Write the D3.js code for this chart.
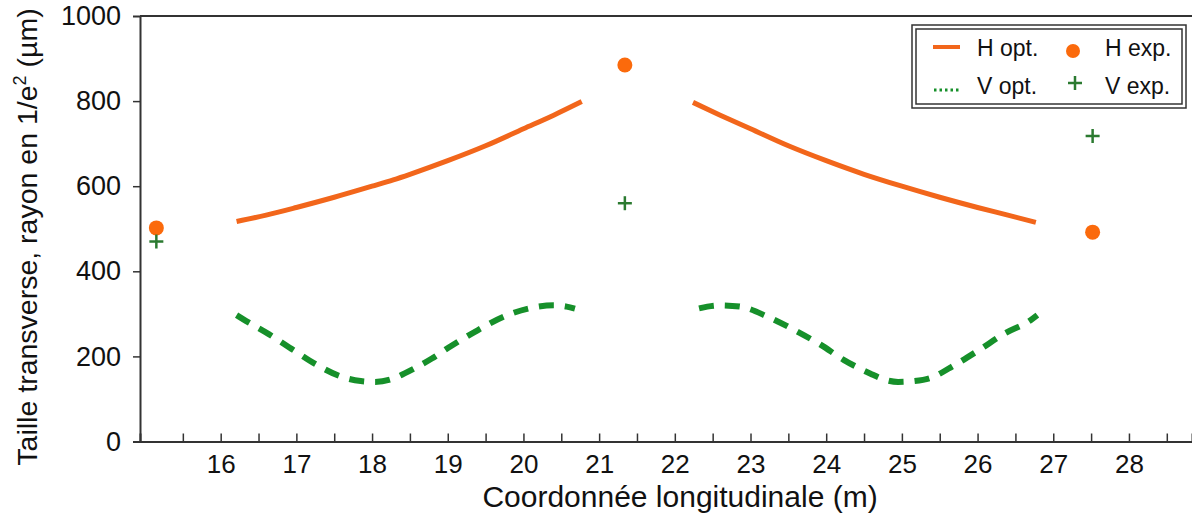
<!DOCTYPE html>
<html><head><meta charset="utf-8">
<script src="https://cdn.jsdelivr.net/npm/d3@7"></script>
<style>
body{margin:0;background:#fff;}
svg{display:block;font-family:"Liberation Sans",Arial,sans-serif;}
</style></head>
<body><svg id="c" width="1192" height="518"></svg>
<script>
// ---- data ----
const xLabels = [16,17,18,19,20,21,22,23,24,25,26,27,28];
const xMinorTicks = [15.5,16,16.5,17,17.5,18,18.5,19,19.5,20,20.5,21,21.5,22,22.5,23,23.5,24,24.5,25,25.5,26,26.5,27,27.5,28,28.5];
const yTicks = [0,200,400,600,800,1000];

const hOptLeftX = [16.21,16.6,17.0,17.5,18.0,18.28,18.5,19.0,19.5,20.0,20.4,20.77];
const hOptLeftY = [517,532,550,574,600,615,628,660,695,735,767,799];
const hOptRightX = [22.24,22.6,23.0,23.5,24.0,24.5,25.0,25.5,26.0,26.4,26.77];
const hOptRightY = [797,767,735,695,660,628,600,574,550,532,515];

const vOptLeftX = [16.21,16.30,16.63,16.96,17.27,17.60,17.85,18.04,18.25,18.43,18.79,19.05,19.40,19.76,20.13,20.40,20.57,20.68];
const vOptLeftY = [297,287,253,215,180,152,142,140,146,160,195,225,262,295,315,320,317,312];
const vOptRightX = [22.32,22.43,22.60,22.86,23.23,23.58,23.93,24.23,24.58,24.78,24.95,25.15,25.37,25.70,26.02,26.35,26.70,26.79];
const vOptRightY = [313,317,320,317,293,262,227,192,160,145,140,142,149,180,215,253,285,297];

const expX = [15.15,21.34,27.52];
const hExp = [502,885,492];
const vExp = [470,560,718];

const legendLabels = ["H opt.","H exp.","V opt.","V exp."];

// ---- colours ----
const orange = "#f2661b";
const orangeDot = "#fb6a0c";
const green = "#16902a";
const greenPlus = "#2b7a30";
const axisCol = "#333";
const textCol = "#111";

const svg = d3.select("#c");
const x = d3.scaleLinear().domain([14.934, 28.833]).range([140, 1192]);
const y = d3.scaleLinear().domain([0, 1000]).range([441.5, 16]);

// frame top line
svg.append("line").attr("x1",140).attr("x2",1192).attr("y1",y(1000)).attr("y2",y(1000))
  .attr("stroke",axisCol).attr("stroke-width",2);

// y axis
const yAxis = d3.axisLeft(y).tickValues(yTicks).tickSize(7).tickPadding(12).tickFormat(d3.format("d"));
const gy = svg.append("g").attr("transform","translate(140,0)").call(yAxis);
gy.select(".domain").attr("stroke",axisCol).attr("stroke-width",2);
gy.selectAll(".tick line").attr("stroke",axisCol).attr("stroke-width",1.5)
  .filter(d=>d===0||d===1000).remove();
gy.selectAll(".tick text").attr("font-size",27).attr("fill",textCol)
  .attr("font-family","Liberation Sans, Arial, sans-serif").attr("dy","0.32em");

// x axis: tick marks
const xTickAxis = d3.axisBottom(x).tickValues(xMinorTicks).tickSize(-8).tickFormat("");
const gx = svg.append("g").attr("transform","translate(0,441.5)").call(xTickAxis);
gx.select(".domain").attr("stroke",axisCol).attr("stroke-width",2);
gx.selectAll(".tick line").attr("stroke",axisCol).attr("stroke-width",1.5);

// x axis: labels
const xLabAxis = d3.axisBottom(x).tickValues(xLabels).tickSize(0).tickPadding(13).tickFormat(d3.format("d"));
const gxl = svg.append("g").attr("transform","translate(0,441.5)").call(xLabAxis);
gxl.select(".domain").remove();
gxl.selectAll(".tick text").attr("font-size",26).attr("fill",textCol)
  .attr("font-family","Liberation Sans, Arial, sans-serif");

// axis titles
svg.append("text").attr("x",680).attr("y",507).attr("text-anchor","middle")
  .attr("font-size",30).attr("fill",textCol).text("Coordonnée longitudinale (m)");
const yt = svg.append("text").attr("transform","translate(37,237) rotate(-90)")
  .attr("text-anchor","middle").attr("font-size",28.5).attr("fill",textCol);
yt.append("tspan").text("Taille transverse, rayon en 1/e");
yt.append("tspan").attr("font-size",18).attr("dy","-0.6em").text("2");
yt.append("tspan").attr("dy","0.38em").text(" (µm)");

// lines
const line = d3.line().x(d=>x(d[0])).y(d=>y(d[1])).curve(d3.curveMonotoneX);
function drawSeg(xs, ys, color, w, dash){
  const p = svg.append("path").datum(xs.map((v,i)=>[v,ys[i]])).attr("d",line)
    .attr("fill","none").attr("stroke",color).attr("stroke-width",w);
  if(dash) p.attr("stroke-dasharray",dash);
}
drawSeg(hOptLeftX,hOptLeftY,orange,5);
drawSeg(hOptRightX,hOptRightY,orange,5);
drawSeg(vOptLeftX,vOptLeftY,green,6,"15,11");
drawSeg(vOptRightX,vOptRightY,green,6,"15,11");

// experimental points
svg.selectAll("circle.hexp").data(expX).enter().append("circle")
  .attr("cx",d=>x(d)).attr("cy",(d,i)=>y(hExp[i])).attr("r",7.5).attr("fill",orangeDot);
svg.selectAll("g.vexp").data(expX).enter().append("g")
  .attr("transform",(d,i)=>`translate(${x(d)},${y(vExp[i])})`)
  .each(function(){
    const g = d3.select(this);
    g.append("line").attr("x1",-7).attr("x2",7).attr("stroke",greenPlus).attr("stroke-width",2.5);
    g.append("line").attr("y1",-7).attr("y2",7).attr("stroke",greenPlus).attr("stroke-width",2.5);
  });

// legend
const lg = svg.append("g");
lg.append("rect").attr("x",912).attr("y",25).attr("width",274).attr("height",83)
  .attr("fill","#fff").attr("stroke",axisCol).attr("stroke-width",1.5);
lg.append("rect").attr("x",916).attr("y",29).attr("width",266).attr("height",75)
  .attr("fill","none").attr("stroke",axisCol).attr("stroke-width",1.5);
lg.append("line").attr("x1",933).attr("x2",960).attr("y1",47).attr("y2",47)
  .attr("stroke",orange).attr("stroke-width",4);
lg.append("circle").attr("cx",1073).attr("cy",51).attr("r",7).attr("fill",orangeDot);
lg.append("line").attr("x1",934).attr("x2",960).attr("y1",90).attr("y2",90)
  .attr("stroke",green).attr("stroke-width",3).attr("stroke-dasharray","2.5,3");
lg.append("line").attr("x1",1068).attr("x2",1082).attr("y1",83).attr("y2",83).attr("stroke",greenPlus).attr("stroke-width",2.5);
lg.append("line").attr("x1",1075).attr("x2",1075).attr("y1",76).attr("y2",90).attr("stroke",greenPlus).attr("stroke-width",2.5);
const lgPos = [[977,56],[1105,56],[977,94],[1105,94]];
lg.selectAll("text.l").data(legendLabels).enter().append("text")
  .attr("x",(d,i)=>lgPos[i][0]).attr("y",(d,i)=>lgPos[i][1])
  .attr("font-size",23).attr("fill",textCol).text(d=>d);
</script>
</body></html>
